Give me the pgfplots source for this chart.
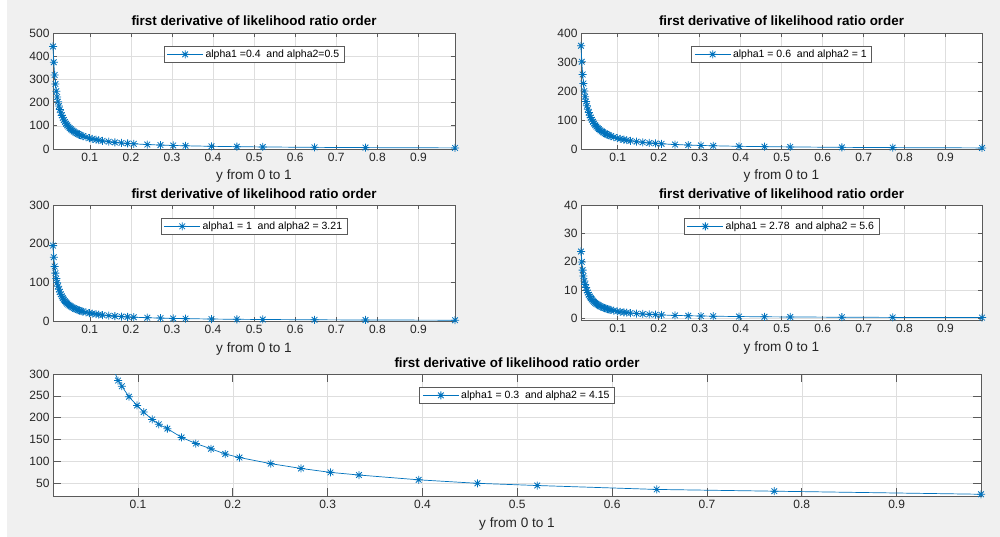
\documentclass[border=0pt]{standalone}
\usepackage{fontspec}
\setmainfont{Liberation Sans}
\usepackage{pgfplots}
\usepackage{pgfplotstable}
\pgfplotsset{compat=1.18}
\definecolor{mblue}{RGB}{0,114,189}
\definecolor{figbg}{RGB}{240,240,240}
\definecolor{axc}{RGB}{90,90,90}
\definecolor{tickc}{RGB}{38,38,38}

\pgfdeclareplotmark{mstar}{%
  \pgfpathmoveto{\pgfqpoint{-\pgfplotmarksize}{0pt}}%
  \pgfpathlineto{\pgfqpoint{\pgfplotmarksize}{0pt}}%
  \pgfpathmoveto{\pgfqpoint{0pt}{-\pgfplotmarksize}}%
  \pgfpathlineto{\pgfqpoint{0pt}{\pgfplotmarksize}}%
  \pgfpathmoveto{\pgfqpoint{-0.707\pgfplotmarksize}{-0.707\pgfplotmarksize}}%
  \pgfpathlineto{\pgfqpoint{0.707\pgfplotmarksize}{0.707\pgfplotmarksize}}%
  \pgfpathmoveto{\pgfqpoint{-0.707\pgfplotmarksize}{0.707\pgfplotmarksize}}%
  \pgfpathlineto{\pgfqpoint{0.707\pgfplotmarksize}{-0.707\pgfplotmarksize}}%
  \pgfusepathqstroke}

\pgfplotstableread{
x       a     b      c      d
0.0104  442   356    195    23.6
0.0123  374   301    165    19.9
0.0144  319   257    141    17.0
0.0164  280   226    123.8  14.9
0.0185  249   200    109.7  13.2
0.0205  224   180.5  99     11.95
0.0226  204   163.7  89.8   10.84
0.0248  185   149.2  81.9   9.88
0.0270  170   137    75.2   9.07
0.0294  156   125.9  69     8.33
0.0318  145   116.4  63.8   7.70
0.0342  134.5 108.2  59.4   7.16
0.0368  125   100.5  55.2   6.66
0.0395  116.5 93.7   51.4   6.20
0.0422  109   87.7   48.1   5.81
0.0450  102   82.2   45.1   5.44
0.0480  96    77.1   42.3   5.10
0.0510  90    72.5   39.8   4.80
0.0540  85    68.5   37.6   4.54
0.0575  80    64.3   35.3   4.26
0.0610  75.4  60.7   33.3   4.02
0.0645  71.3  57.4   31.5   3.80
0.0680  67.6  54.4   29.9   3.60
0.0715  64.3  51.7   28.4   3.43
0.0752  61.2  49.2   27     3.26
0.0790  58.2  46.8   25.7   3.10
0.0830  55.4  44.6   24.5   2.95
0.0905  50.8  40.9   22.4   2.71
0.0990  46.5  37.4   20.5   2.47
0.1060  43.4  34.9   19.2   2.31
0.1150  40    32.2   17.7   2.13
0.1220  37.7  30.3   16.6   2.01
0.1310  35.1  28.2   15.5   1.87
0.1460  31.5  25.3   13.9   1.68
0.1610  28.6  23     12.6   1.52
0.1770  26    20.9   11.5   1.38
0.1920  24    19.3   10.6   1.28
0.2070  22.2  17.9   9.8    1.18
0.2400  19.2  15.4   8.5    1.02
0.2720  16.9  13.6   7.5    0.90
0.3030  15.2  12.2   6.7    0.81
0.3330  13.8  11.1   6.1    0.74
0.3960  11.6  9.3    5.1    0.62
0.4580  10    8.1    4.4    0.53
0.5210  8.8   7.1    3.9    0.47
0.6470  7.1   5.7    3.1    0.38
0.7710  6     4.8    2.6    0.32
0.9890  4.7   3.7    2.1    0.25
}\datatab

\tikzset{dataline/.style={color=mblue, line width=0.7pt, mark=mstar, mark size=4pt, mark options={line width=0.8pt, solid}}}

\pgfplotsset{
  mstyle/.style={
    scale only axis,
    anchor=north west,
    xmin=0.0104, xmax=0.989,
    xtick={0.1,0.2,0.3,0.4,0.5,0.6,0.7,0.8,0.9},
    xticklabels={0.1,0.2,0.3,0.4,0.5,0.6,0.7,0.8,0.9},
    grid=major,
    major grid style={color=black!13, line width=0.5pt},
    axis line style={axc, line width=0.7pt},
    tick style={axc, line width=0.6pt},
    tick align=inside,
    xtick pos=both, ytick pos=both,
    major tick length=4pt,
    ticklabel style={font=\fontsize{12}{14}\selectfont, text=tickc},
    xticklabel style={yshift=-1pt},
    /pgf/number format/assume math mode=true,
    scaled ticks=false,
    title={first derivative of likelihood ratio order},
    title style={font=\bfseries\fontsize{13.4}{15}\selectfont, at={(0.5,1)}, anchor=base, yshift=1pt},
    xlabel={y from 0 to 1},
    xlabel style={font=\fontsize{13.6}{15}\selectfont, text=tickc, at={(0.5,0)}, anchor=base, yshift=-31pt},
    axis background/.style={fill=white},
    legend style={at={(0.5,1)}, anchor=north, yshift=-13pt,
      font=\fontsize{10.5}{12}\selectfont, draw=axc, fill=white,
      inner xsep=3pt, inner ysep=1.5pt, line width=0.6pt},
    legend cell align=left,
    legend image code/.code={\draw[mark repeat=2,mark phase=2] plot coordinates {(-3pt,0pt) (15pt,0pt) (33pt,0pt)};},
  }
}

\begin{document}
\begin{tikzpicture}
\useasboundingbox (0pt,0pt) rectangle (1000pt,-537pt);
\fill[white] (0pt,0pt) rectangle (1000pt,-537pt);
\fill[figbg] (7pt,0pt) rectangle (1000pt,-537pt);

\begin{axis}[mstyle, at={(53pt,-33pt)}, width=402pt, height=116pt,
  ymin=0, ymax=500, ytick={0,100,200,300,400,500}, clip=false]
\addplot[dataline] table[x=x,y=a] {\datatab};
\addlegendentry{alpha1 =0.4\ \ and alpha2=0.5}
\end{axis}

\begin{axis}[mstyle, at={(581pt,-33pt)}, width=401pt, height=116pt,
  ymin=0, ymax=400, ytick={0,100,200,300,400}, clip=false]
\addplot[dataline] table[x=x,y=b] {\datatab};
\addlegendentry{alpha1 = 0.6\ \ and alpha2 = 1}
\end{axis}

\begin{axis}[mstyle, at={(53pt,-205pt)}, width=402pt, height=116pt,
  ymin=0, ymax=300, ytick={0,100,200,300}, clip=false]
\addplot[dataline] table[x=x,y=c] {\datatab};
\addlegendentry{alpha1 = 1\ \ and alpha2 = 3.21}
\end{axis}

\begin{axis}[mstyle, at={(581pt,-205pt)}, width=401pt, height=115pt,
  ymin=-0.6, ymax=40, ytick={0,10,20,30,40}, clip=false]
\addplot[dataline] table[x=x,y=d] {\datatab};
\addlegendentry{alpha1 = 2.78\ \ and alpha2 = 5.6}
\end{axis}

\begin{axis}[mstyle, at={(53pt,-374pt)}, width=928pt, height=122pt,
  ymin=21, ymax=300, ytick={50,100,150,200,250,300}, major tick length=8pt,
  clip mode=individual]
\addlegendimage{dataline}
\addlegendentry{alpha1 = 0.3\ \ and alpha2 = 4.15}
\addplot[forget plot, color=mblue, line width=0.7pt, no marks] coordinates {(0.0645,357) (0.068,338) (0.0715,322) (0.0752,306) (0.079,285)};
\addplot[dataline, forget plot] coordinates {
(0.079,285) (0.083,272) (0.0905,248) (0.099,228) (0.106,213) (0.115,196)
(0.122,185) (0.131,175) (0.146,155) (0.161,141) (0.177,129) (0.192,117)
(0.207,109) (0.24,95) (0.272,84) (0.303,75) (0.333,69) (0.396,58)
(0.458,50) (0.521,45) (0.647,36) (0.771,32) (0.989,25)};
\end{axis}
\end{tikzpicture}
\end{document}
